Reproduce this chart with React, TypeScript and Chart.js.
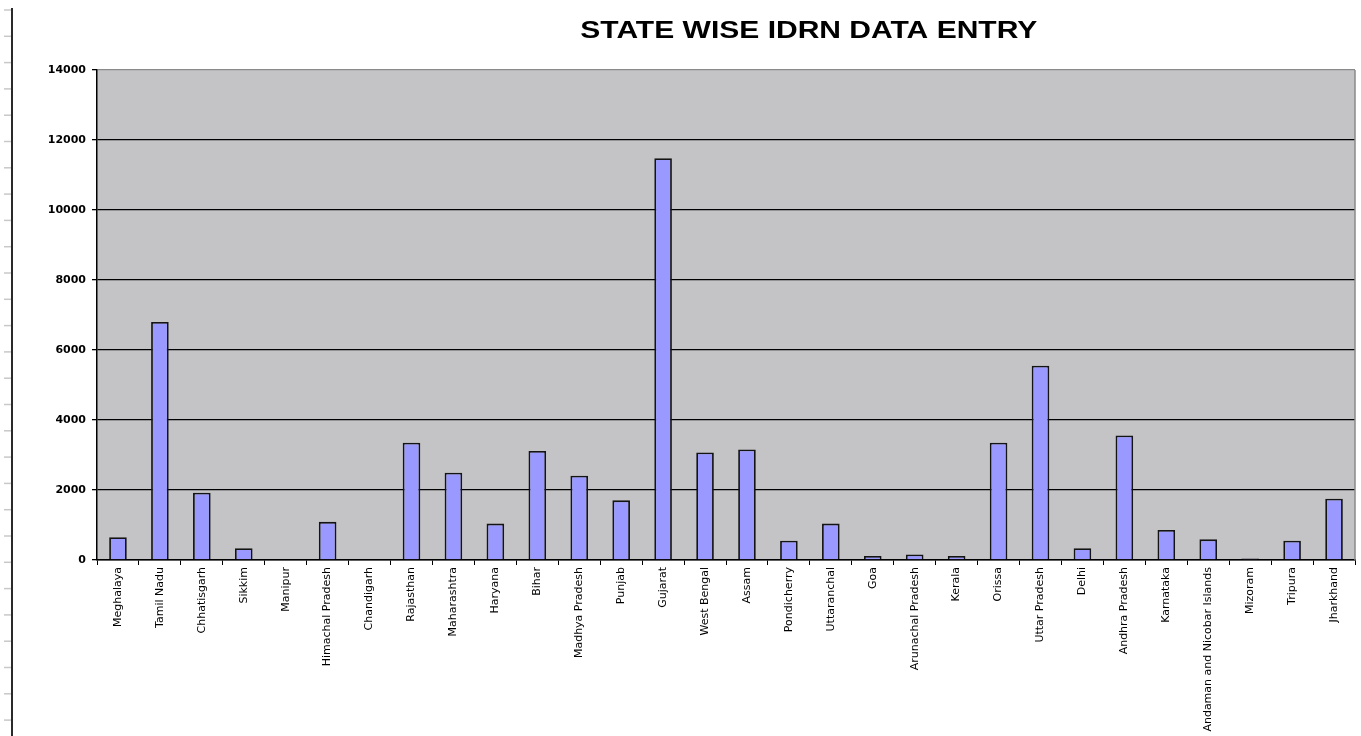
import React, { useEffect, useRef } from "react";
import { Chart, registerables } from "chart.js";

Chart.register(...registerables);

const chartTitle = "STATE WISE IDRN DATA ENTRY";

const states = [
  "Meghalaya", "Tamil Nadu", "Chhatisgarh", "Sikkim", "Manipur", "Himachal Pradesh",
  "Chandigarh", "Rajasthan", "Maharashtra", "Haryana", "Bihar", "Madhya Pradesh",
  "Punjab", "Gujarat", "West Bengal", "Assam", "Pondicherry", "Uttaranchal", "Goa",
  "Arunachal Pradesh", "Kerala", "Orissa", "Uttar Pradesh", "Delhi", "Andhra Pradesh",
  "Karnataka", "Andaman and Nicobar Islands", "Mizoram", "Tripura", "Jharkhand",
];

const entries = [
  650, 6800, 1920, 335, 0, 1090,
  0, 3350, 2495, 1040, 3115, 2410,
  1705, 11480, 3075, 3160, 550, 1040, 115,
  160, 115, 3350, 5550, 335, 3560,
  860, 590, 40, 550, 1750,
];

const yTicks = [0, 2000, 4000, 6000, 8000, 10000, 12000, 14000];

const decorPlugin = {
  id: "decor",
  beforeDraw(chart: any) {
    const { ctx, chartArea } = chart;
    ctx.save();
    ctx.fillStyle = "#c4c3c6";
    ctx.fillRect(chartArea.left, chartArea.top, chartArea.right - chartArea.left, chartArea.bottom - chartArea.top);
    ctx.restore();
  },
  beforeDatasetsDraw(chart: any) {
    const { ctx, chartArea } = chart;
    ctx.save();
    ctx.strokeStyle = "#8a8a8a";
    ctx.lineWidth = 1.5;
    ctx.beginPath();
    ctx.moveTo(chartArea.right, chartArea.top);
    ctx.lineTo(chartArea.right, chartArea.bottom);
    ctx.stroke();
    ctx.restore();
  },
  afterDraw(chart: any) {
    const { ctx, chartArea } = chart;
    ctx.save();
    // left decorative ruler
    ctx.strokeStyle = "#2a2a2a";
    ctx.lineWidth = 2;
    ctx.beginPath();
    ctx.moveTo(12, 8);
    ctx.lineTo(12, chart.height);
    ctx.stroke();
    ctx.strokeStyle = "#c8c8c8";
    ctx.lineWidth = 1.5;
    for (let y = 10; y < chart.height; y += 26.3) {
      ctx.beginPath();
      ctx.moveTo(4, y);
      ctx.lineTo(11, y);
      ctx.stroke();
    }
    // title
    ctx.fillStyle = "#000";
    ctx.font = "bold 23px 'Liberation Sans', Arial, sans-serif";
    ctx.textAlign = "center";
    ctx.textBaseline = "middle";
    const w = ctx.measureText(chartTitle).width;
    const sx = 457 / w;
    const cx = chartArea.left + (chartArea.right - chartArea.left) * 0.5658;
    ctx.translate(cx, 32);
    ctx.scale(sx, 1);
    ctx.fillText(chartTitle, 0, 0);
    ctx.restore();
  },
};

export default function App() {
  const ref = useRef<HTMLCanvasElement | null>(null);
  useEffect(() => {
    if (!ref.current) return;
    const chart = new Chart(ref.current, {
      type: "bar",
      data: {
        labels: states,
        datasets: [
          {
            data: entries,
            backgroundColor: "#9999ff",
            borderColor: "#141414",
            borderWidth: 1.8,
            barPercentage: 0.42,
            categoryPercentage: 1,
          },
        ],
      },
      options: {
        animation: false,
        responsive: true,
        maintainAspectRatio: false,
        layout: { padding: { top: 70, right: 6, left: 0, bottom: 0 } },
        plugins: {
          legend: { display: false },
          tooltip: { enabled: false },
          title: { display: false },
        },
        scales: {
          x: {
            afterFit: (scale: any) => {
              scale.height = 176;
            },
            grid: {
              drawOnChartArea: false,
              drawTicks: true,
              tickLength: 5,
              tickColor: "#000",
              offset: true,
            },
            border: { display: true, color: "#000", width: 1.5 },
            ticks: {
              autoSkip: false,
              minRotation: 90,
              maxRotation: 90,
              padding: 2,
              color: "#000",
              font: { family: "'DejaVu Sans', sans-serif", size: 11 },
            },
          },
          y: {
            min: 0,
            max: 14000,
            afterFit: (scale: any) => {
              scale.width = 97;
            },
            afterBuildTicks: (scale: any) => {
              scale.ticks = yTicks.map((v) => ({ value: v }));
            },
            grid: {
              color: (c: any) => (c.tick && c.tick.value === 14000 ? "#8a8a8a" : "#000"),
              lineWidth: 1.3,
              tickLength: 5,
              tickColor: "#000",
            },
            border: { display: true, color: "#000", width: 1.5 },
            ticks: {
              padding: 6,
              color: "#000",
              font: { family: "'DejaVu Sans', sans-serif", size: 11, weight: "bold" },
              callback: (v: any) => String(v),
            },
          },
        },
      },
      plugins: [decorPlugin],
    });
    return () => chart.destroy();
  }, []);

  return (
    <div style={{ position: "fixed", left: 0, top: 0, width: 1361, height: 736, background: "#fff" }}>
      <canvas ref={ref} />
    </div>
  );
}
